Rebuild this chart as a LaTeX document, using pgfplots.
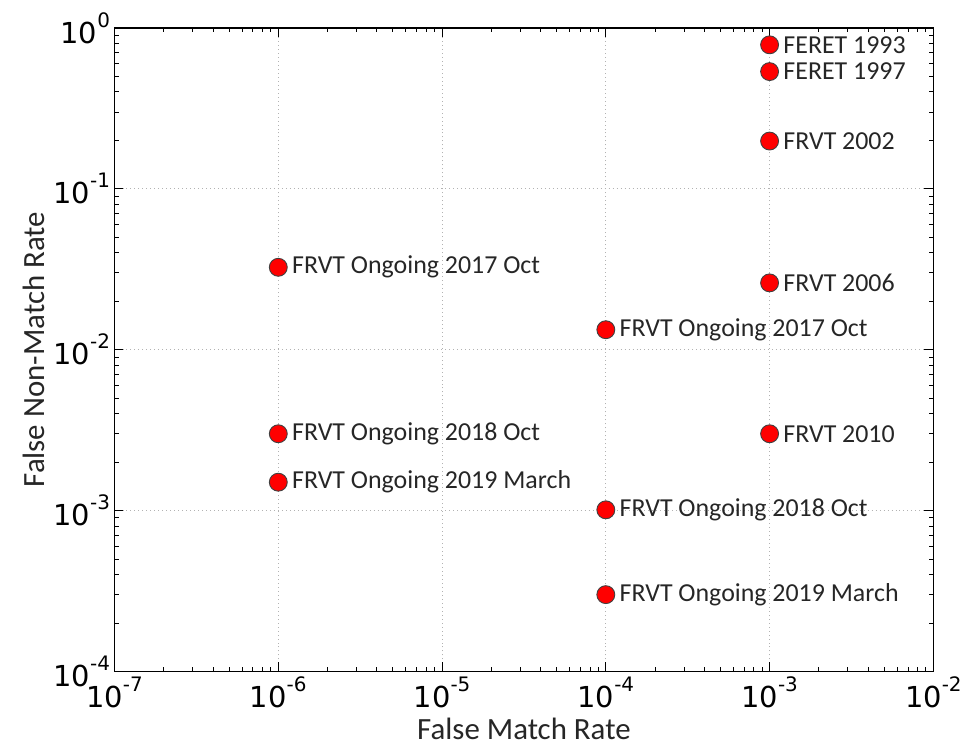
\documentclass[border=0pt]{standalone}
\usepackage{pgfplots}
\pgfplotsset{compat=1.18}
\usepackage{fontspec}
\setmainfont{Carlito}
\newfontfamily\dejavu{DejaVu Sans}
\newcommand{\tl}[1]{10\raisebox{0.55em}{\fontsize{20}{20}\selectfont #1}}
\begin{document}
\begin{tikzpicture}
\begin{axis}[
  scale only axis, width=822pt, height=646pt,
  xmode=log, ymode=log,
  xmin=1e-7, xmax=1e-2, ymin=1e-4, ymax=1,
  xtick={1e-7,1e-6,1e-5,1e-4,1e-3,1e-2},
  xticklabels={\tl{-7},\tl{-6},\tl{-5},\tl{-4},\tl{-3},\tl{-2}},
  ytick={1e-4,1e-3,1e-2,1e-1,1},
  yticklabels={\tl{-4},\tl{-3},\tl{-2},\tl{-1},\tl{0}},
  tick label style={font=\dejavu\fontsize{29}{29}\selectfont, text=black},
  xticklabel style={yshift=-2pt},
  yticklabel style={xshift=-1pt},
  tick align=inside, major tick length=9pt, minor tick length=4.5pt,
  tick style={black, line width=0.9pt},
  grid=major, major grid style={gray!60, dash pattern=on 1pt off 3pt, line width=0.9pt},
  axis line style={line width=1.3pt},
  xlabel={False Match Rate}, ylabel={False Non-Match Rate},
  label style={font=\fontsize{31}{31}\selectfont, text=black!85},
  xlabel style={yshift=-3pt},
  ylabel style={yshift=2pt},
  clip=false,
]
\addplot[only marks, mark=*, mark size=9pt,
  mark options={fill=red, draw=black!75, line width=0.9pt},
  nodes near coords, point meta=explicit symbolic,
  nodes near coords style={anchor=west, inner sep=0pt, xshift=13.5pt,
    font=\fontsize{26}{26}\selectfont, text=black!85}]
  table[col sep=comma, meta=label] {
x,y,label
1e-3,0.785,FERET 1993
1e-3,0.535,FERET 1997
1e-3,0.198,FRVT 2002
1e-3,0.026,FRVT 2006
1e-3,0.003,FRVT 2010
1e-4,0.0133,FRVT Ongoing 2017 Oct
1e-4,0.00101,FRVT Ongoing 2018 Oct
1e-4,0.0003,FRVT Ongoing 2019 March
1e-6,0.0325,FRVT Ongoing 2017 Oct
1e-6,0.003,FRVT Ongoing 2018 Oct
1e-6,0.0015,FRVT Ongoing 2019 March
};
\end{axis}
\path (current axis.south west) ++(-115pt,-79pt);
\path (current axis.north east) ++(28pt,28pt);
\end{tikzpicture}
\end{document}
